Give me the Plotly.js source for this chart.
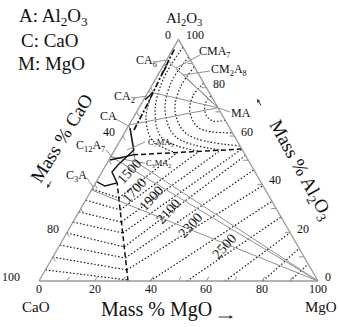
<!DOCTYPE html>
<html>
<head>
<meta charset="utf-8">
<script src="https://cdn.plot.ly/plotly-3.0.1.min.js"></script>
<style>
body { margin: 0; background: #fff; }
#plot1 { width: 339px; height: 327px; }
</style>
</head>
<body>
<div id="plot1"></div>
<script>
// every point is [mass % MgO, mass % Al2O3], CaO is what is left
var S = Math.sqrt(3) / 2;

// compounds
var phaseKeys = ['C3A', 'C12A7', 'CA', 'CA2', 'CA6', 'MA', 'CMA7', 'CM2A8', 'C3MA2', 'C7MA5', 'MgO'];
var phaseMgO = [0, 0, 0, 0, 0, 28.3, 5.0, 8.5, 9.8, 4.3, 100];
var phaseAl = [37.7, 51.5, 64.6, 78.4, 91.6, 71.7, 88.1, 85.6, 49.4, 54.1, 0];
var phaseText = ['C<sub>3</sub>A', 'C<sub>12</sub>A<sub>7</sub>', 'CA', 'CA<sub>2</sub>', 'CA<sub>6</sub>', 'MA',
	'CMA<sub>7</sub>', 'CM<sub>2</sub>A<sub>8</sub>', 'C<sub>3</sub>MA<sub>2</sub>', 'C<sub>7</sub>MA<sub>5</sub>', ''];

// tie lines (gray)
var tieFrom = ['MgO', 'MgO', 'MgO', 'MA', 'MA', 'MA', 'MA', 'MA', 'CA', 'C12A7'];
var tieTo = ['C3A', 'C12A7', 'C3MA2', 'CA', 'CA2', 'CA6', 'CMA7', 'CM2A8', 'C3MA2', 'C3MA2'];

// field boundaries
var d1MgO = [31.9, 7.7], d1Al = [0, 40.6];                 // CaO / MgO
var d2MgO = [7.6, 27.4, 45.4], d2Al = [52.2, 53.4, 54.6];  // MgO / spinel
var d3MgO = [2.8, 2.3, 1.4, 0.9, 0.5], d3Al = [62.5, 72.9, 84.0, 91.5, 96.4]; // spinel / calcium aluminates
var solidMgO = [[1.0, 6.9, 4.3, 3.6, 7.7], [0.4, 7.6], [0.3, 4.0, 7.7], [0.5, 1.8], [0.4, 1.3, 1.2]];
var solidAl = [[63.3, 54.2, 48.0, 45.1, 40.6], [50.1, 52.2], [41.0, 39.3, 40.6], [75.0, 78.0], [89.5, 88.5, 85.5]];

// isotherms, CaO field (start on the CaO-Al2O3 side)
var isoCaStartAl = [4.6, 9.9, 14.9, 19.9, 24.4, 28.6, 33.5, 38.1];
var isoCaEndMgO = [31.7, 29.2, 26.2, 23.5, 20.1, 17.3, 14.4, 11.4];
var isoCaEndAl = [0.4, 4.6, 9.5, 14.1, 19.9, 24.4, 29.4, 34.4];

// isotherms, MgO field
var isoMgStartMgO = [90.0, 80.3, 66.7, 53.0, 39.8, 29.2, 26.2, 23.5, 20.1, 17.3, 14.4, 11.4];
var isoMgStartAl = [0, 0, 0, 0, 0, 4.6, 9.5, 14.1, 19.9, 24.4, 29.4, 34.4];
var isoMgEndMgO = [93.0, 86.5, 80.0, 73.5, 67.0, 60.5, 54.0, 48.0, 45.4, 38.0, 30.5, 23.0];
var isoMgEndAl = [7.0, 13.5, 20.0, 26.5, 33.0, 39.5, 46.0, 52.0, 54.6, 54.1, 53.6, 53.1];

// isotherms, spinel field
var isoSpMgO = [
	[23.4, 22.9, 25.5, 29.3, 33.4],
	[18.1, 16.9, 19.1, 25.7, 38.7],
	[11.4, 10.6, 13.8, 22.6, 44.1],
	[7.3, 6.3, 10.2, 19.3, 38.6],
	[3.2, 2.8, 6.6, 14.5, 30.9],
	[2.1, 4.6, 11.3, 22.3]];
var isoSpAl = [
	[76.6, 73.3, 68.7, 66.2, 66.6],
	[81.9, 76.6, 70.0, 63.3, 61.3],
	[88.6, 79.9, 70.0, 60.8, 55.9],
	[92.7, 82.0, 70.0, 59.6, 54.1],
	[96.8, 83.2, 70.0, 59.2, 53.6],
	[75.7, 67.5, 58.4, 53.1]];

var isoLabels = ['1500', '1700', '1900', '2100', '2300', '2500'];

// axis ticks
var tickVals = [10, 20, 30, 40, 50, 60, 70, 80, 90];
var bottomTicks = [0, 20, 40, 60, 80, 100];   // MgO
var leftTicks = [100, 80, 40, 0];             // CaO
var rightTicks = [0, 20, 40, 60, 80, 100];    // Al2O3

function xy(mg, al) { return [mg + al / 2, al * S]; }
function pix(px, py) { return [(px - 39) / 2.79, (281 - py) / 2.79]; }

function path(mgList, alList) {
	var x = [], y = [];
	for (var k = 0; k < mgList.length; k++) {
		for (var i = 0; i < mgList[k].length; i++) {
			var p = xy(mgList[k][i], alList[k][i]);
			x.push(p[0]); y.push(p[1]);
		}
		x.push(null); y.push(null);
	}
	return {x: x, y: y};
}

function lineTrace(p, color, width, dash, shape) {
	return {x: p.x, y: p.y, mode: 'lines', hoverinfo: 'skip', showlegend: false,
		line: {color: color, width: width, dash: dash || 'solid', shape: shape || 'linear'}};
}

function comp(key) {
	var i = phaseKeys.indexOf(key);
	return [phaseMgO[i], phaseAl[i]];
}

var FONT = 'Liberation Serif, Times New Roman, serif';
var DOTS = '1.5px,2px';

function drawPlot1() {
	var traces = [];

	// isotherms
	var caMg = [], caAl = [];
	isoCaStartAl.forEach(function (a, i) { caMg.push([0, isoCaEndMgO[i]]); caAl.push([a, isoCaEndAl[i]]); });
	traces.push(lineTrace(path(caMg, caAl), '#1a1a1a', 1.2, DOTS));
	var mgMg = [], mgAl = [];
	isoMgStartMgO.forEach(function (m, i) { mgMg.push([m, isoMgEndMgO[i]]); mgAl.push([isoMgStartAl[i], isoMgEndAl[i]]); });
	traces.push(lineTrace(path(mgMg, mgAl), '#1a1a1a', 1.2, DOTS));
	traces.push(lineTrace(path(isoSpMgO, isoSpAl), '#1a1a1a', 1.2, DOTS, 'spline'));

	// tie lines
	var tMg = [], tAl = [];
	tieFrom.forEach(function (f, i) {
		var a = comp(f), b = comp(tieTo[i]);
		tMg.push([a[0], b[0]]); tAl.push([a[1], b[1]]);
	});
	traces.push(lineTrace(path(tMg, tAl), '#8f8f8f', 1));

	// boundaries
	traces.push(lineTrace(path([d1MgO, d2MgO], [d1Al, d2Al]), '#111', 1.5, '5px,3px'));
	traces.push(lineTrace(path([d3MgO], [d3Al]), '#111', 1.7, '6px,2px,2px,2px'));
	traces.push(lineTrace(path(solidMgO, solidAl), '#111', 1.4));

	// triangle and ticks
	var tk = 1.8, kMg = [], kAl = [];
	tickVals.forEach(function (v) {
		kMg.push([v, v]); kAl.push([0, tk]);
		kMg.push([100 - v, 100 - v - tk]); kAl.push([v, v]);
		kMg.push([0, tk]); kAl.push([v, v - tk]);
	});
	traces.push(lineTrace(path(kMg, kAl), '#8f8f8f', 1));
	traces.push(lineTrace(path([[0, 100, 0, 0]], [[0, 0, 100, 0]]), '#9a9a9a', 1.3));

	var ann = [];
	function txt(p, text, size, extra) {
		var a = {x: p[0], y: p[1], xref: 'x', yref: 'y', text: text, showarrow: false,
			font: {family: FONT, size: size, color: '#111'}, xanchor: 'center', yanchor: 'middle'};
		for (var k in extra) a[k] = extra[k];
		ann.push(a);
	}

	// legend text
	txt(pix(17, 17), 'A: Al<sub>2</sub>O<sub>3</sub>', 19, {xanchor: 'left'});
	txt(pix(19, 40), 'C: CaO', 19, {xanchor: 'left'});
	txt(pix(16, 63), 'M: MgO', 19, {xanchor: 'left'});

	// corners and axis titles
	txt(pix(184, 19), 'Al<sub>2</sub>O<sub>3</sub>', 15);
	txt(pix(36, 307), 'CaO', 15);
	txt(pix(321, 307), 'MgO', 15);
	txt(pix(156, 309), 'Mass % MgO', 20);
	txt(pix(61, 138), 'Mass % CaO', 19, {textangle: -58});
	txt(pix(300, 170), 'Mass % Al<sub>2</sub>O<sub>3</sub>', 19, {textangle: 61});

	// tick labels
	bottomTicks.forEach(function (v) { txt(xy(v, 0), String(v), 12, {yshift: -8}); });
	leftTicks.forEach(function (v) {
		txt(xy(0, 100 - v), String(v), 12, {xanchor: 'right', xshift: v === 100 ? -17 : -6, yshift: 4});
	});
	rightTicks.forEach(function (v) { txt(xy(100 - v, v), String(v), 12, {xanchor: 'left', xshift: 5, yshift: 4}); });

	// compound labels
	var labelPos = [[76, 176], [90, 146], [108, 116], [124, 97], [146, 61], [241, 113], [215, 52], [229, 70], [158, 163], [160, 142]];
	labelPos.forEach(function (q, i) { txt(pix(q[0], q[1]), phaseText[i], i >= 8 ? 8.5 : 12); });

	// isotherm labels
	var isoPos = [[129, 171], [134, 190], [151, 198], [168, 211], [190, 225], [224, 246]];
	isoLabels.forEach(function (t, i) { txt(pix(isoPos[i][0], isoPos[i][1]), t, 14, {textangle: -48}); });

	// little arrows beside the axis titles
	function arrow(hx, hy, ax, ay) {
		var p = pix(hx, hy);
		ann.push({x: p[0], y: p[1], xref: 'x', yref: 'y', showarrow: true, text: '', ax: ax, ay: ay,
			arrowhead: 2, arrowsize: 0.7, arrowwidth: 1, arrowcolor: '#333'});
	}
	arrow(233, 317, -16, 0);
	arrow(47, 188, 5, -8);
	arrow(257, 99, 5, 8);

	// label leader lines
	var leaders = [[156, 62, 166, 60], [200, 55, 176, 68], [210, 71, 183, 75], [134, 98, 147, 96], [230, 112, 219, 108],
		[116, 119, 128, 126], [106, 150, 112, 157], [87, 178, 93, 187], [145, 142, 127, 150], [145, 163, 136, 162]];
	var shapes = leaders.map(function (l) {
		var a = pix(l[0], l[1]), b = pix(l[2], l[3]);
		return {type: 'line', xref: 'x', yref: 'y', x0: a[0], y0: a[1], x1: b[0], y1: b[1],
			line: {color: '#8f8f8f', width: 1}};
	});

	var layout = {
		width: 339, height: 327,
		margin: {l: 0, r: 0, t: 0, b: 0},
		paper_bgcolor: '#fff', plot_bgcolor: '#fff',
		showlegend: false,
		font: {family: FONT, color: '#111'},
		xaxis: {range: [-39 / 2.79, 300 / 2.79], visible: false, fixedrange: true},
		yaxis: {range: [-46 / 2.79, 281 / 2.79], visible: false, fixedrange: true},
		annotations: ann,
		shapes: shapes
	};
	Plotly.newPlot('plot1', traces, layout, {staticPlot: true});
}

drawPlot1();
</script>
</body>
</html>
